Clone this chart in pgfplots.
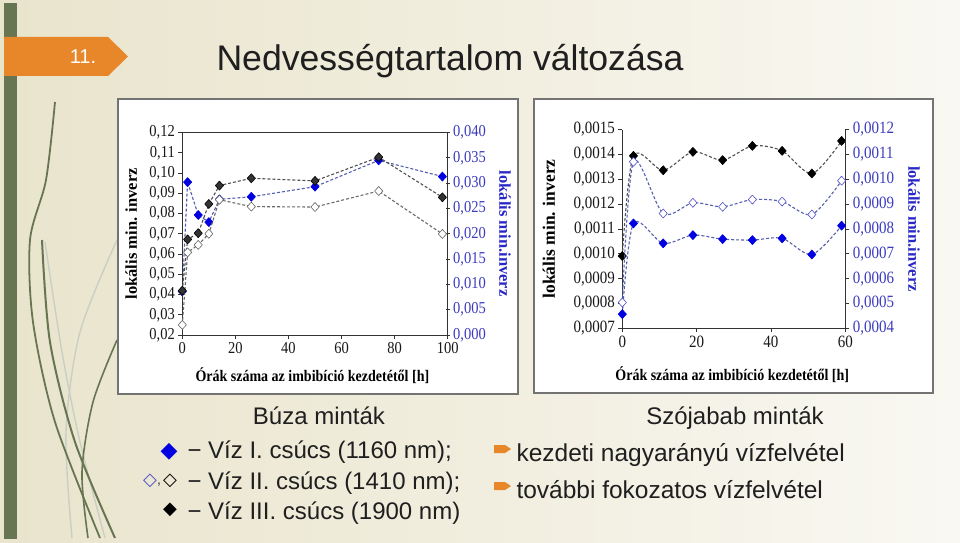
\documentclass[border=0pt]{standalone}
\usepackage{fontspec}
\setmainfont{Liberation Serif}
\newfontfamily\arial{Liberation Sans}
\newfontfamily\dejavu{DejaVu Sans}
\usepackage{graphicx}
\usepackage{pgfplots}
\pgfplotsset{compat=1.18}
\definecolor{bgL}{RGB}{233,228,204}
\definecolor{bgR}{RGB}{249,248,242}
\definecolor{olivebar}{RGB}{104,117,82}
\definecolor{tagorange}{RGB}{231,135,42}
\definecolor{mblue}{RGB}{0,0,225}
\definecolor{lblue}{RGB}{60,60,190}
\definecolor{labblue}{RGB}{40,40,200}
\definecolor{lineblue}{RGB}{85,95,175}
\definecolor{linegray}{RGB}{80,80,80}
\definecolor{openblue}{RGB}{80,80,200}

\pgfplotsset{
  base/.style={
    scale only axis, clip=false,
    axis line style={-, black!80, line width=0.8pt},
    tick style={black!80, line width=0.8pt},
    major tick length=4pt, tick align=outside,
    /pgf/number format/assume math mode=true,
    /pgf/number format/use comma,
    /pgf/number format/fixed,
    /pgf/number format/fixed zerofill,
    scaled y ticks=false, scaled x ticks=false,
    xticklabel={\scalebox{1}[1.15]{\pgfmathprintnumber{\tick}}},
    yticklabel={\scalebox{1}[1.15]{\pgfmathprintnumber{\tick}}},
    xticklabel style={/pgf/number format/precision=0},
    tick label style={font=\fontsize{14.5}{14.5}\selectfont, text=black!90},
    label style={font=\bfseries\fontsize{14}{14}\selectfont},
    ylabel style={font=\bfseries\fontsize{16.5}{16.5}\selectfont, anchor=center},
    xlabel style={anchor=center},
  },
  dline/.style={dash pattern=on 3pt off 2pt, line width=1.1pt},
  dmark/.style 2 args={mark=diamond*, mark size=4.5pt,
     mark options={solid, xscale=1.22, line width=0.6pt, line join=round, fill=#1, draw=#2}},
}

\begin{document}
\begin{tikzpicture}[x=1pt,y=1pt]
% background
\path[use as bounding box] (0,0) rectangle (960,542);
\shade[left color=bgL, right color=bgR] (0,0) rectangle (960,542);
\fill[olivebar] (4,3) rectangle (17,539);
% decorative strands
\draw[olivebar!35, line width=1.4pt] plot[smooth] coordinates {(45,300) (62,190) (80,100) (105,4)};
\draw[olivebar!35, line width=1.4pt] plot[smooth] coordinates {(117,302) (80,210) (66,110) (72,4)};
\draw[olivebar, line width=1.8pt] plot[smooth] coordinates {(55,440) (46,362) (30,302) (33,220) (55,120) (100,4)};
\draw[olivebar, line width=2pt] plot[smooth] coordinates {(42,302) (50,200) (75,100) (115,4)};
\draw[olivebar, line width=1.6pt] plot[smooth] coordinates {(117,202) (93,140) (82,70) (88,4)};
% orange tag
\fill[tagorange] (4,505) -- (108,505) -- (128,485.5) -- (108,466) -- (4,466) -- cycle;
\node[text=white, font=\arial\fontsize{20}{20}\selectfont] at (83,485.5) {11.};
% title
\node[anchor=base west, font=\arial\fontsize{35.6}{35.6}\selectfont, text=black!88] at (213,471) {Nedvességtartalom változása};
% chart panels
\draw[black!55, line width=1.2pt, fill=white] (118,148) rectangle (518,443);
\draw[black!55, line width=1.2pt, fill=white] (534,149) rectangle (933,443);

% ---------- Left chart (Búza) ----------
\begin{axis}[base, at={(182.3pt,207pt)}, anchor=south west,
  width=265.4pt, height=202.5pt,
  xmin=0, xmax=100, ymin=0, ymax=0.04,
  axis x line=none, axis y line*=right, ytick pos=right, yticklabel pos=right,
  tick align=center,
  ytick={0,0.005,0.01,0.015,0.02,0.025,0.03,0.035,0.04},
  yticklabel style={/pgf/number format/precision=3, text=lblue},
  ylabel={lokális min.inverz},
  ylabel style={text=labblue, rotate=180, at={(axis description cs:1.216,0.5)}},
]
\addplot[lineblue, dline, dmark={mblue}{mblue}] coordinates {
 (0,0.0086) (2,0.0302) (6,0.0237) (10,0.0223) (14,0.0268) (26,0.0273) (50,0.0293) (74,0.0345) (98,0.0313)};
\end{axis}
\begin{axis}[base, at={(182.3pt,207pt)}, anchor=south west,
  width=265.4pt, height=202.5pt,
  xmin=0, xmax=100, ymin=0.02, ymax=0.12,
  xtick={0,20,40,60,80,100}, xtick pos=left, ytick pos=left,
  ytick={0.02,0.03,0.04,0.05,0.06,0.07,0.08,0.09,0.1,0.11,0.12},
  yticklabel style={/pgf/number format/precision=2},
  xlabel={\scalebox{1}[1.15]{Órák száma az imbibíció kezdetétől [h]}},
  xlabel style={at={(axis description cs:0.49,-0.203)}},
  ylabel={lokális min. inverz},
  ylabel style={at={(axis description cs:-0.192,0.5)}},
]
\addplot[linegray!85, dline, dmark={white}{black!60}] coordinates {
 (0,0.0250) (2,0.0608) (6,0.0645) (10,0.0700) (14,0.0868) (26,0.0834) (50,0.0832) (74,0.0911) (98,0.0699)};
\addplot[linegray, dline, dmark={black!80}{black}] coordinates {
 (0,0.0419) (2,0.0672) (6,0.0703) (10,0.0847) (14,0.0938) (26,0.0974) (50,0.0961) (74,0.1078) (98,0.0880)};
\end{axis}

% ---------- Right chart (Szójabab) ----------
\begin{axis}[base, at={(622.3pt,213.7pt)}, anchor=south west,
  width=223pt, height=198.8pt,
  xmin=0, xmax=60, ymin=0.0007, ymax=0.0015,
  axis x line*=bottom, axis y line*=left,
  xtick={0,20,40,60},
  ytick={0.0007,0.0008,0.0009,0.001,0.0011,0.0012,0.0013,0.0014,0.0015},
  yticklabel style={/pgf/number format/precision=4},
  tick label style={font=\fontsize{15}{15}\selectfont},
  xlabel={\scalebox{1}[1.15]{Órák száma az imbibíció kezdetétől [h]}},
  xlabel style={at={(axis description cs:0.493,-0.235)}},
  ylabel={lokális min. inverz},
  ylabel style={font=\bfseries\fontsize{17.5}{17.5}\selectfont, at={(axis description cs:-0.329,0.5)}},
]
\addplot[linegray, dline, smooth, dmark={black}{black}] coordinates {
 (0,0.000991) (3,0.001394) (11,0.001336) (19,0.001410) (27,0.001377) (35,0.001434) (43,0.001414) (51,0.001323) (59,0.001454)};
\end{axis}
\begin{axis}[base, at={(622.3pt,213.7pt)}, anchor=south west,
  width=223pt, height=198.8pt,
  xmin=0, xmax=60, ymin=0.0004, ymax=0.0012,
  axis x line=none, axis y line*=right, ytick pos=right, yticklabel pos=right,
  ytick={0.0004,0.0005,0.0006,0.0007,0.0008,0.0009,0.001,0.0011,0.0012},
  yticklabel style={/pgf/number format/precision=4, text=lblue},
  tick label style={font=\fontsize{15}{15}\selectfont},
  ylabel={lokális min.inverz},
  ylabel style={text=labblue, rotate=180, at={(axis description cs:1.308,0.5)}},
]
\addplot[lineblue, dline, smooth, dmark={mblue}{mblue}] coordinates {
 (0,0.000457) (3,0.000822) (11,0.000742) (19,0.000775) (27,0.000759) (35,0.000755) (43,0.000762) (51,0.000697) (59,0.000813)};
\addplot[lineblue, dline, smooth, dmark={white}{openblue}] coordinates {
 (0,0.000504) (3,0.001070) (11,0.000862) (19,0.000905) (27,0.000889) (35,0.000918) (43,0.000910) (51,0.000858) (59,0.000994)};
\end{axis}

% ---------- bottom texts ----------
\node[anchor=base, font=\arial\fontsize{24}{24}\selectfont, text=black!88] at (319,118) {Búza minták};
\node[anchor=base west, font=\arial\fontsize{24}{24}\selectfont, text=black!88] at (184,84) {− Víz I. csúcs (1160 nm);};
\node[anchor=base west, font=\arial\fontsize{24}{24}\selectfont, text=black!88] at (184,52.5) {− Víz II. csúcs (1410 nm);};
\node[anchor=base west, font=\arial\fontsize{24}{24}\selectfont, text=black!88] at (184,22.5) {− Víz III. csúcs (1900 nm)};
\node[font=\dejavu\fontsize{22}{22}\selectfont, text=mblue] at (169,90) {◆};
\node[font=\dejavu\fontsize{18}{18}\selectfont, text=openblue] at (150,61) {◇};
\node[font=\arial\fontsize{14}{14}\selectfont, text=black!80] at (159,57) {,};
\node[font=\dejavu\fontsize{18}{18}\selectfont, text=black] at (170,61) {◇};
\node[font=\dejavu\fontsize{18}{18}\selectfont, text=black] at (170,32) {◆};

\node[anchor=base, font=\arial\fontsize{24}{24}\selectfont, text=black!88] at (735,118) {Szójabab minták};
\fill[tagorange] (494,97) -- (505,97) -- (511,93) -- (505,89) -- (494,89) -- cycle;
\fill[tagorange] (494,60) -- (505,60) -- (511,56) -- (505,52) -- (494,52) -- cycle;
\node[anchor=base west, font=\arial\fontsize{24.5}{24.5}\selectfont, text=black!88] at (513,81) {kezdeti nagyarányú vízfelvétel};
\node[anchor=base west, font=\arial\fontsize{24.5}{24.5}\selectfont, text=black!88] at (513,44) {további fokozatos vízfelvétel};
\end{tikzpicture}
\end{document}
